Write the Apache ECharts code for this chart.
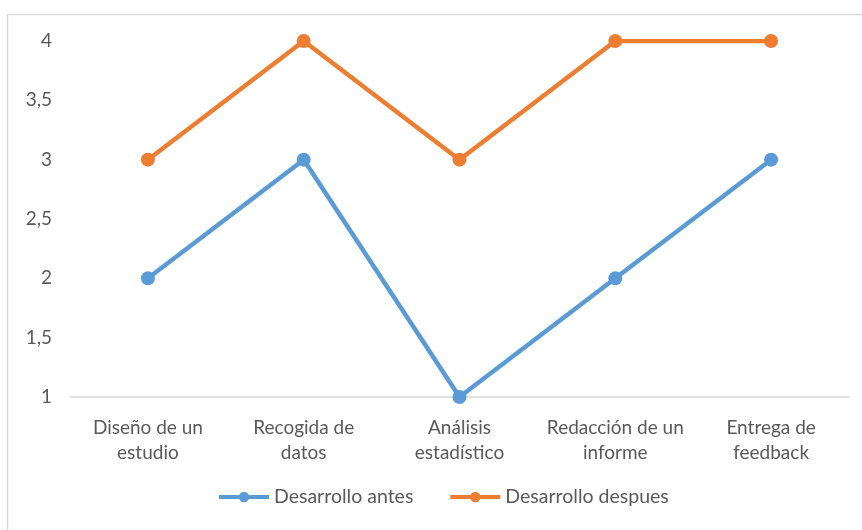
<!DOCTYPE html>
<html>
<head>
<meta charset="utf-8">
<script src="https://cdn.jsdelivr.net/npm/echarts@6/dist/echarts.min.js"></script>
<style>
	html, body { margin: 0; padding: 0; background: #fff; }
	#chart { width: 862px; height: 530px; }
</style>
</head>
<body>
<div id="chart"></div>
<script>
var categories = ['Diseño de un\nestudio', 'Recogida de\ndatos', 'Análisis\nestadístico', 'Redacción de un\ninforme', 'Entrega de\nfeedback'];
var antes = [2, 3, 1, 2, 3];
var despues = [3, 4, 3, 4, 4];

var textColor = '#595959';
var font = 'Lato, "Open Sans", sans-serif';

var option = {
	animation: false,
	graphic: [{
		type: 'rect',
		shape: { x: 7.5, y: 14.5, width: 870, height: 530 },
		style: { fill: 'none', stroke: '#d9d9d9', lineWidth: 1.5 },
		silent: true
	}],
	grid: { left: 70, right: 13, top: 41, bottom: 133 },
	legend: {
		bottom: 18,
		left: 212,
		itemWidth: 50,
		itemHeight: 13,
		itemGap: 35,
		lineStyle: { width: 4 },
		textStyle: { color: textColor, fontSize: 19.5, fontFamily: font }
	},
	xAxis: {
		type: 'category',
		data: categories,
		boundaryGap: true,
		axisLine: { lineStyle: { color: '#d9d9d9', width: 1.5 } },
		axisTick: { show: false },
		axisLabel: { color: textColor, fontSize: 19, fontFamily: font, lineHeight: 25, margin: 18, interval: 0 }
	},
	yAxis: {
		type: 'value',
		min: 1,
		max: 4,
		interval: 0.5,
		axisLine: { show: false },
		axisTick: { show: false },
		splitLine: { show: false },
		axisLabel: {
			color: textColor, fontSize: 19, fontFamily: font, margin: 18,
			formatter: function(v) {
				return (v + '').replace('.', ',');
			}
		}
	},
	series: [{
		name: 'Desarrollo antes',
		type: 'line',
		data: antes,
		symbol: 'circle',
		symbolSize: 14,
		color: '#5b9bd5',
		lineStyle: { width: 4.5 }
	}, {
		name: 'Desarrollo despues',
		type: 'line',
		data: despues,
		symbol: 'circle',
		symbolSize: 14,
		color: '#ed7d31',
		lineStyle: { width: 4.5 }
	}]
};

var chart = echarts.init(document.getElementById('chart'));
chart.setOption(option);
</script>
</body>
</html>
